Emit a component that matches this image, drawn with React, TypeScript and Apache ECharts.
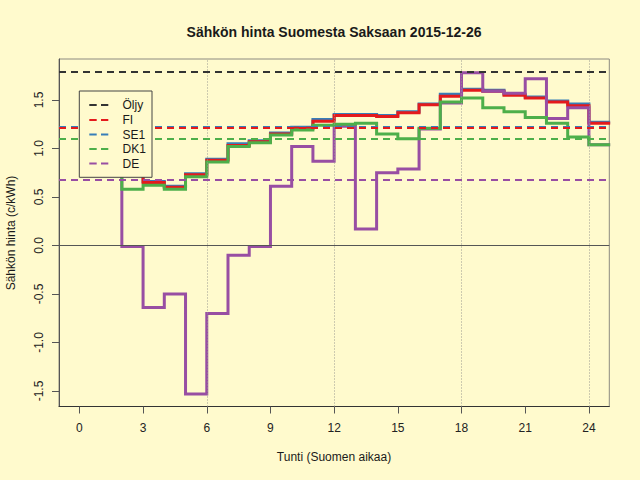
import React, { useEffect, useRef } from "react";
import * as echarts from "echarts";

// Hour (Finnish time) at which each hourly price starts
const hours = [1, 2, 3, 4, 5, 6, 7, 8, 9, 10, 11, 12, 13, 14, 15, 16, 17, 18, 19, 20, 21, 22, 23, 24];

const fiPrices = [0.8, 0.76, 0.65, 0.6, 0.73, 0.88, 1.03, 1.07, 1.15, 1.21, 1.28, 1.34, 1.34, 1.33, 1.37, 1.45, 1.54, 1.6, 1.59, 1.55, 1.52, 1.48, 1.44, 1.26];
const se1Prices = [0.81, 0.77, 0.66, 0.61, 0.74, 0.89, 1.05, 1.08, 1.16, 1.22, 1.3, 1.35, 1.35, 1.34, 1.38, 1.46, 1.56, 1.61, 1.6, 1.56, 1.53, 1.49, 1.46, 1.27];
const dk1Prices = [0.89, 0.58, 0.62, 0.58, 0.71, 0.86, 1.02, 1.06, 1.14, 1.19, 1.24, 1.25, 1.26, 1.15, 1.1, 1.21, 1.48, 1.52, 1.42, 1.38, 1.32, 1.26, 1.12, 1.04];
const dePrices = [1.15, -0.01, -0.64, -0.5, -1.53, -0.7, -0.1, -0.01, 0.61, 1.02, 0.87, 1.23, 0.17, 0.75, 0.79, 1.2, 1.47, 1.78, 1.59, 1.57, 1.72, 1.31, 1.42, 1.04];

const oilPrice = 1.79;
const fiAvg = 1.21;
const se1Avg = 1.215;
const dk1Avg = 1.1;
const deAvg = 0.675;

const xTicks = [0, 3, 6, 9, 12, 15, 18, 21, 24];
const yTicks = [-1.5, -1, -0.5, 0, 0.5, 1, 1.5];
const guideHours = [6, 12, 18, 24];

const legendNames = ["Öljy", "FI", "SE1", "DK1", "DE"];

const C_OIL = "#333333";
const C_FI = "#E41A1C";
const C_SE1 = "#377EB8";
const C_DK1 = "#4DAF4A";
const C_DE = "#984EA3";
const legendColors = [C_OIL, C_FI, C_SE1, C_DK1, C_DE];

const BG = "#FFFACD";
const FONT = "'Liberation Sans', Arial, Helvetica, sans-serif";

function stepData(vals: number[]) {
  const pts = hours.map((h, i) => [h, vals[i]]);
  pts.push([hours[hours.length - 1] + 1, vals[vals.length - 1]]);
  return pts;
}

export default function App() {
  const ref = useRef<HTMLDivElement>(null);

  useEffect(() => {
    document.body.style.margin = "0";
    const chart = echarts.init(ref.current!, null, { renderer: "svg" });

    const gl = 59, gt = 59, gr = 609.3, gb = 406.5;

    const stepSeries = (name: string, vals: number[], color: string, width: number) => ({
      name,
      type: "line",
      step: "end",
      data: stepData(vals),
      symbol: "none",
      showSymbol: false,
      lineStyle: { color, width, join: "miter", cap: "butt" },
      itemStyle: { color },
      silent: true,
      clip: true,
      animation: false,
      z: 2,
    });

    const hLine = (v: number, color: string) => ({
      yAxis: v,
      lineStyle: { color, width: 2, type: [7, 5] },
    });

    const LZ = 100;
    const legendItems: any[] = [
      {
        type: "rect",
        z: LZ,
        shape: { x: 79.3, y: 91, width: 72.7, height: 86.3 },
        style: { fill: BG, stroke: "#444", lineWidth: 1 },
        silent: true,
      },
    ];
    const rowY = [105, 120, 134.5, 149, 163.5];
    legendNames.forEach((n, i) => {
      legendItems.push({
        type: "line",
        z: LZ + 1,
        shape: { x1: 89.3, y1: rowY[i], x2: 96.7, y2: rowY[i] },
        style: { stroke: legendColors[i], lineWidth: 2 },
        silent: true,
      });
      legendItems.push({
        type: "line",
        z: LZ + 1,
        shape: { x1: 101, y1: rowY[i], x2: 108.3, y2: rowY[i] },
        style: { stroke: legendColors[i], lineWidth: 2 },
        silent: true,
      });
      legendItems.push({
        type: "text",
        z: LZ + 1,
        x: 122.5,
        y: rowY[i],
        silent: true,
        style: {
          text: n,
          fill: "#1a1a1a",
          font: `12px ${FONT}`,
          textAlign: "left",
          textVerticalAlign: "middle",
        },
      });
    });

    chart.setOption({
      animation: false,
      backgroundColor: BG,
      textStyle: { fontFamily: FONT },
      grid: {
        left: gl,
        top: gt,
        right: 640 - gr,
        bottom: 480 - gb,
        containLabel: false,
        outerBoundsMode: "none",
        show: false,
      },
      xAxis: {
        type: "value",
        min: -0.96,
        max: 24.96,
        axisLine: { show: true, onZero: false, lineStyle: { color: "#333", width: 1 } },
        axisTick: {
          show: true,
          customValues: xTicks,
          length: 7,
          lineStyle: { color: "#555", width: 1 },
        },
        axisLabel: {
          show: true,
          customValues: xTicks,
          margin: 15,
          color: "#222",
          fontSize: 12,
          fontFamily: FONT,
        },
        splitLine: { show: false },
      },
      yAxis: {
        type: "value",
        min: -1.66,
        max: 1.923,
        axisLine: { show: true, onZero: false, lineStyle: { color: "#555", width: 1 } },
        axisTick: {
          show: true,
          customValues: yTicks,
          length: 7,
          lineStyle: { color: "#555", width: 1 },
        },
        axisLabel: {
          show: true,
          customValues: yTicks,
          rotate: 90,
          margin: 14,
          color: "#222",
          fontSize: 12,
          fontFamily: FONT,
          formatter: (v: number) => v.toFixed(1),
        },
        splitLine: { show: false },
      },
      graphic: [
        {
          type: "rect",
          z: 0,
          shape: { x: gl, y: gt, width: gr - gl, height: gb - gt },
          style: { fill: "none", stroke: "#8c8a80", lineWidth: 1 },
          silent: true,
        },
        {
          type: "text",
          x: 334,
          y: 32,
          silent: true,
          style: {
            text: "Sähkön hinta Suomesta Saksaan 2015-12-26",
            fill: "#1a1a1a",
            font: `bold 14px ${FONT}`,
            textAlign: "center",
            textVerticalAlign: "middle",
          },
        },
        {
          type: "text",
          x: 334,
          y: 457,
          silent: true,
          style: {
            text: "Tunti (Suomen aikaa)",
            fill: "#1a1a1a",
            font: `12px ${FONT}`,
            textAlign: "center",
            textVerticalAlign: "middle",
          },
        },
        {
          type: "text",
          x: 11,
          y: 233,
          rotation: Math.PI / 2,
          silent: true,
          style: {
            text: "Sähkön hinta (c/kWh)",
            fill: "#1a1a1a",
            font: `12px ${FONT}`,
            textAlign: "center",
            textVerticalAlign: "middle",
          },
        },
        ...legendItems,
      ],
      series: [
        {
          name: "refs",
          type: "line",
          data: [],
          silent: true,
          z: 1,
          markLine: {
            silent: true,
            symbol: ["none", "none"],
            label: { show: false },
            animation: false,
            data: [
              ...guideHours.map((h) => ({
                xAxis: h,
                lineStyle: { color: "#9a9a90", width: 1, type: [1, 2] },
              })),
              { yAxis: 0, lineStyle: { color: "#555", width: 1, type: "solid" } },
              hLine(oilPrice, C_OIL),
              hLine(se1Avg, C_SE1),
              hLine(fiAvg, C_FI),
              hLine(dk1Avg, C_DK1),
              hLine(deAvg, C_DE),
            ],
          },
        },
        stepSeries("SE1", se1Prices, C_SE1, 3),
        stepSeries("FI", fiPrices, C_FI, 3),
        stepSeries("DE", dePrices, C_DE, 3),
        stepSeries("DK1", dk1Prices, C_DK1, 3),
      ],
    });

    return () => chart.dispose();
  }, []);

  return <div ref={ref} style={{ width: 640, height: 480 }} />;
}
